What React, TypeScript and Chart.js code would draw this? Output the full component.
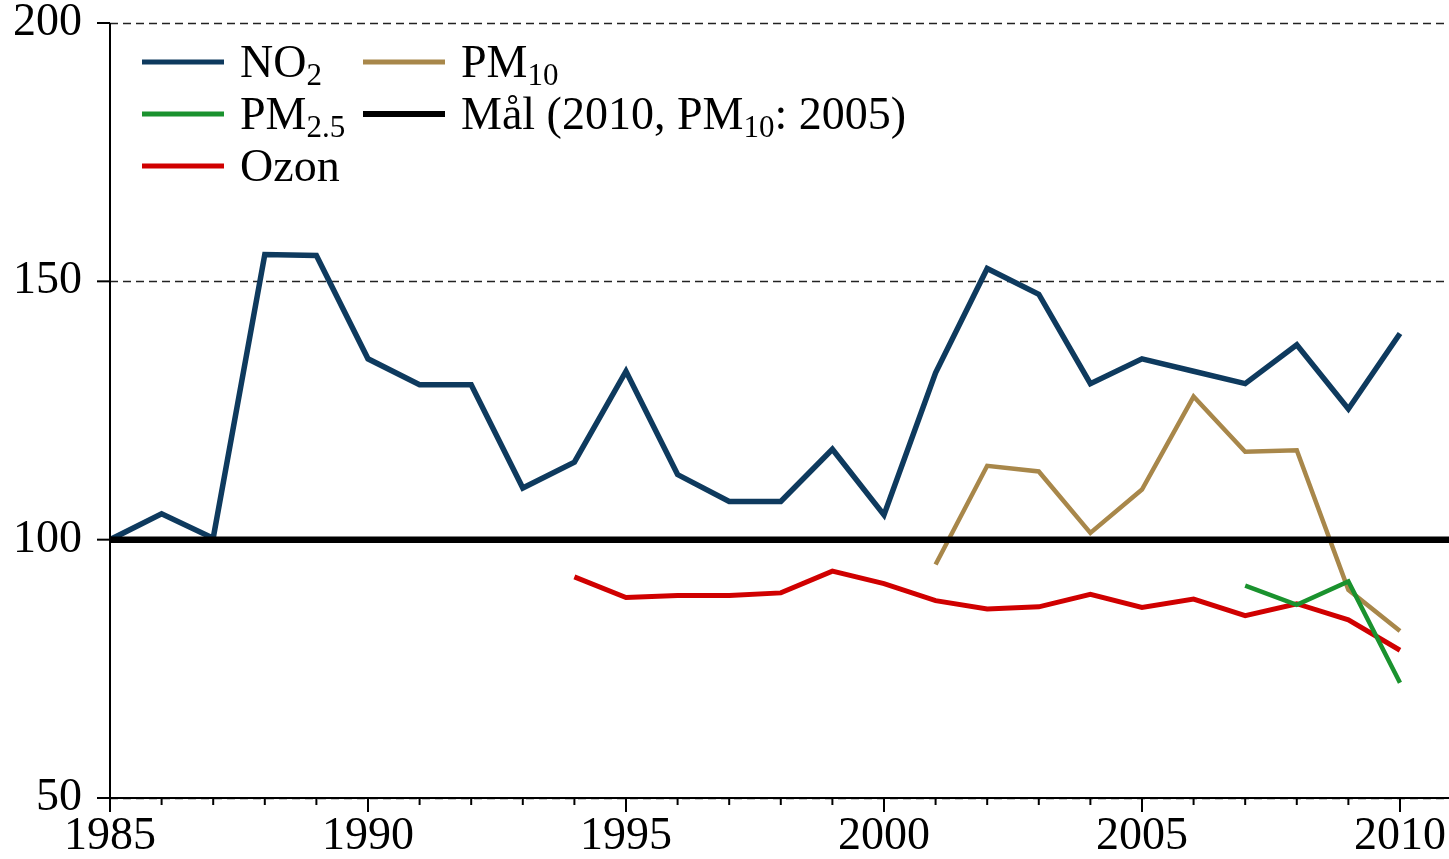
import React, { useEffect, useRef } from "react";
import { Chart, registerables } from "chart.js";

Chart.register(...registerables);

// ---- data ----
const no2Years = [1985, 1986, 1987, 1988, 1989, 1990, 1991, 1992, 1993, 1994, 1995, 1996, 1997, 1998, 1999, 2000, 2001, 2002, 2003, 2004, 2005, 2006, 2007, 2008, 2009, 2010];
const no2Values = [100, 105, 100.3, 155.2, 155, 135, 130, 130, 110, 115, 132.6, 112.6, 107.4, 107.4, 117.5, 104.8, 132.3, 152.5, 147.5, 130.2, 135, 132.6, 130.2, 137.7, 125.3, 139.9];

const pm10Years = [2001, 2002, 2003, 2004, 2005, 2006, 2007, 2008, 2009, 2010];
const pm10Values = [95.2, 114.3, 113.2, 101.3, 109.7, 127.7, 117, 117.3, 90.3, 82.3];

const pm25Years = [2007, 2008, 2009, 2010];
const pm25Values = [91.1, 87.4, 91.9, 72.3];

const ozoneYears = [1994, 1995, 1996, 1997, 1998, 1999, 2000, 2001, 2002, 2003, 2004, 2005, 2006, 2007, 2008, 2009, 2010];
const ozoneValues = [92.8, 88.8, 89.2, 89.2, 89.7, 93.9, 91.5, 88.2, 86.6, 87, 89.4, 86.9, 88.5, 85.3, 87.6, 84.5, 78.6];

const goalYears = [1985, 2011];
const goalValues = [100, 100];

const xTickYears = [1985, 1986, 1987, 1988, 1989, 1990, 1991, 1992, 1993, 1994, 1995, 1996, 1997, 1998, 1999, 2000, 2001, 2002, 2003, 2004, 2005, 2006, 2007, 2008, 2009, 2010];
const xLabelYears = [1985, 1990, 1995, 2000, 2005, 2010];
const yTickValues = [50, 100, 150, 200];

const COLORS = {
  no2: "#0e3a5e",
  pm10: "#a8874a",
  pm25: "#1a922e",
  ozone: "#d00000",
  goal: "#000000",
};

const FONT = '"Liberation Serif", "Times New Roman", serif';

const toXY = (xs: number[], ys: number[]) => xs.map((x, i) => ({ x, y: ys[i] }));

type Part = [string, boolean];
const legendItems: { col: number; row: number; color: string; width: number; parts: Part[] }[] = [
  { col: 0, row: 0, color: COLORS.no2, width: 5, parts: [["NO", false], ["2", true]] },
  { col: 1, row: 0, color: COLORS.pm10, width: 5, parts: [["PM", false], ["10", true]] },
  { col: 0, row: 1, color: COLORS.pm25, width: 5, parts: [["PM", false], ["2.5", true]] },
  { col: 1, row: 1, color: COLORS.goal, width: 6, parts: [["Mål (2010, PM", false], ["10", true], [": 2005)", false]] },
  { col: 0, row: 2, color: COLORS.ozone, width: 5, parts: [["Ozon", false]] },
];

const decorPlugin = {
  id: "decor",
  beforeDatasetsDraw(chart: any) {
    const ctx = chart.ctx;
    const area = chart.chartArea;
    const y = chart.scales.y;
    ctx.save();
    ctx.strokeStyle = "#222";
    ctx.lineWidth = 1.5;
    ctx.setLineDash([8, 5]);
    yTickValues.forEach((v) => {
      const py = Math.round(y.getPixelForValue(v)) + 0.5;
      ctx.beginPath();
      ctx.moveTo(area.left, py);
      ctx.lineTo(area.right, py);
      ctx.stroke();
    });
    ctx.restore();
  },
  afterDatasetsDraw(chart: any) {
    const ctx = chart.ctx;
    const area = chart.chartArea;
    const x = chart.scales.x;
    const y = chart.scales.y;
    ctx.save();
    ctx.strokeStyle = "#000";
    ctx.lineWidth = 2;
    ctx.setLineDash([]);
    ctx.beginPath();
    ctx.moveTo(area.left, area.top);
    ctx.lineTo(area.left, area.bottom);
    ctx.lineTo(area.right, area.bottom);
    ctx.stroke();
    yTickValues.forEach((v) => {
      const py = y.getPixelForValue(v);
      ctx.beginPath();
      ctx.moveTo(area.left - 13, py);
      ctx.lineTo(area.left, py);
      ctx.stroke();
    });
    xTickYears.forEach((yr) => {
      const px = x.getPixelForValue(yr);
      const len = xLabelYears.includes(yr) ? 14 : 7;
      ctx.beginPath();
      ctx.moveTo(px, area.bottom);
      ctx.lineTo(px, area.bottom + len);
      ctx.stroke();
    });
    ctx.restore();
  },
  afterDraw(chart: any) {
    const ctx = chart.ctx;
    ctx.save();
    ctx.textBaseline = "alphabetic";
    ctx.fillStyle = "#000";
    const colX = [142, 363];
    const lineLen = 82;
    const rowY = [62, 114, 166];
    legendItems.forEach((it) => {
      const lx = colX[it.col];
      const ly = rowY[it.row];
      ctx.strokeStyle = it.color;
      ctx.lineWidth = it.width;
      ctx.beginPath();
      ctx.moveTo(lx, ly);
      ctx.lineTo(lx + lineLen, ly);
      ctx.stroke();
      let tx = lx + lineLen + 16;
      const base = ly + 15;
      it.parts.forEach(([txt, sub]) => {
        ctx.font = sub ? `31px ${FONT}` : `46px ${FONT}`;
        ctx.fillText(txt, tx, sub ? base + 8 : base);
        tx += ctx.measureText(txt).width;
      });
    });
    ctx.restore();
  },
};

export default function App() {
  const canvasRef = useRef<HTMLCanvasElement | null>(null);

  useEffect(() => {
    const canvas = canvasRef.current;
    if (!canvas) return;
    const line = (label: string, data: any[], color: string, width: number, order: number) => ({
      label,
      data,
      borderColor: color,
      backgroundColor: color,
      borderWidth: width,
      pointRadius: 0,
      tension: 0,
      fill: false,
      order,
      borderJoinStyle: "miter" as const,
    });
    const chart = new Chart(canvas, {
      type: "line",
      data: {
        datasets: [
          line("Mål", toXY(goalYears, goalValues), COLORS.goal, 6.5, 0),
          line("PM2.5", toXY(pm25Years, pm25Values), COLORS.pm25, 4.5, 1),
          line("Ozon", toXY(ozoneYears, ozoneValues), COLORS.ozone, 5, 2),
          line("PM10", toXY(pm10Years, pm10Values), COLORS.pm10, 4.5, 3),
          line("NO2", toXY(no2Years, no2Values), COLORS.no2, 5.5, 4),
        ],
      },
      options: {
        responsive: false,
        animation: false,
        events: [],
        layout: { padding: { top: 23, right: 0, left: 0, bottom: 0 } },
        plugins: { legend: { display: false }, tooltip: { enabled: false } },
        scales: {
          x: {
            type: "linear",
            min: 1985,
            max: 2010.95,
            grid: { display: false, drawTicks: false },
            border: { display: false },
            afterBuildTicks: (scale: any) => {
              scale.ticks = xLabelYears.map((v) => ({ value: v }));
            },
            afterFit: (scale: any) => {
              scale.height = 61;
              scale.paddingLeft = 0;
              scale.paddingRight = 0;
            },
            ticks: {
              padding: 11,
              color: "#000",
              font: { family: FONT, size: 46 },
              maxRotation: 0,
              autoSkip: false,
              callback: (v: any) => String(v),
            },
          },
          y: {
            type: "linear",
            min: 50,
            max: 200,
            grid: { display: false, drawTicks: false },
            border: { display: false },
            afterBuildTicks: (scale: any) => {
              scale.ticks = yTickValues.map((v) => ({ value: v }));
            },
            afterFit: (scale: any) => {
              scale.width = 110;
              scale.paddingTop = 0;
              scale.paddingBottom = 0;
            },
            ticks: {
              padding: 28,
              color: "#000",
              font: { family: FONT, size: 46 },
              autoSkip: false,
              callback: (v: any) => String(v),
            },
          },
        },
      },
      plugins: [decorPlugin],
    });
    return () => chart.destroy();
  }, []);

  return (
    <div style={{ position: "absolute", left: 0, top: 0, width: 1449, height: 859, background: "#fff" }}>
      <canvas ref={canvasRef} width={1449} height={859} style={{ display: "block" }} />
    </div>
  );
}
